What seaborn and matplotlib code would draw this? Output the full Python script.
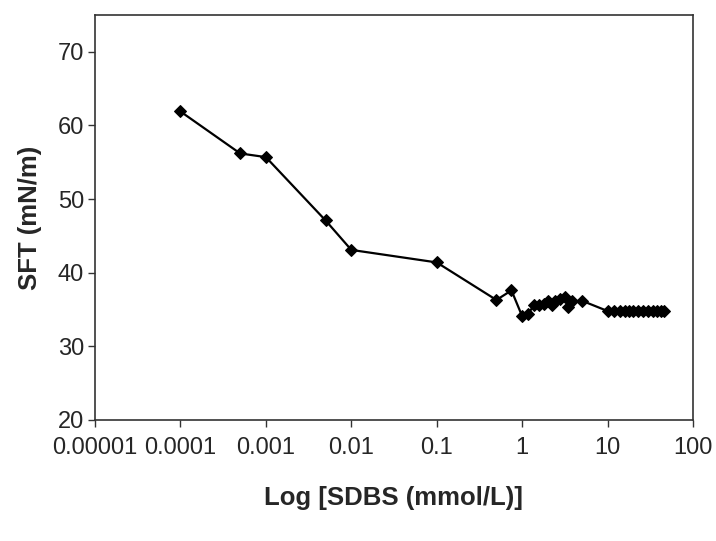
import matplotlib
matplotlib.use("Agg")
import matplotlib.pyplot as plt
import seaborn as sns
import pandas as pd
import numpy as np

# Data
sdbs_conc = [0.0001, 0.0005, 0.001, 0.005, 0.01, 0.1, 0.5, 0.75, 1.0, 1.17,
             1.38, 1.58, 1.81, 2.02, 2.24, 2.43, 2.79, 3.19, 3.46, 3.85, 5.0,
             10, 12, 14, 16, 18, 20, 23, 26, 30, 34, 38, 42, 46]
sft_values = [61.9, 56.2, 55.7, 47.1, 43.1, 41.4, 36.3, 37.6, 34.1, 34.4,
              35.6, 35.6, 35.7, 36.1, 35.6, 36.2, 36.4, 36.7, 35.3, 36.1, 36.2,
              34.8, 34.8, 34.8, 34.8, 34.8, 34.8, 34.8, 34.8, 34.8, 34.8, 34.8, 34.8, 34.8]
x_ticks = [0.00001, 0.0001, 0.001, 0.01, 0.1, 1, 10, 100]
x_tick_labels = ["0.00001", "0.0001", "0.001", "0.01", "0.1", "1", "10", "100"]
y_ticks = [20, 30, 40, 50, 60, 70]

df = pd.DataFrame({"conc": sdbs_conc, "sft": sft_values})

sns.set_style("white")
plt.rcParams["font.family"] = ["Liberation Sans", "DejaVu Sans"]

fig = plt.figure(figsize=(7.16, 5.41), dpi=100)
ax = fig.add_axes([95 / 716, 1 - 420 / 541, (693 - 95) / 716, (420 - 15) / 541])

sns.lineplot(data=df, x="conc", y="sft", ax=ax, sort=False, color="black",
             linewidth=1.6, marker="D", markersize=6.5, markeredgecolor="black",
             markerfacecolor="black")

ax.set_xscale("log")
ax.set_xlim(1e-5, 100)
ax.set_ylim(20, 75)
ax.xaxis.set_major_locator(matplotlib.ticker.FixedLocator(x_ticks))
ax.xaxis.set_minor_locator(matplotlib.ticker.NullLocator())
ax.set_xticklabels(x_tick_labels)
ax.set_yticks(y_ticks)

ax.tick_params(axis="both", which="major", direction="out", length=5, width=1,
               color="#333333", labelsize=17, pad=3, bottom=True, left=True)
ax.tick_params(axis="x", pad=7)

for s in ax.spines.values():
    s.set_color("#333333")
    s.set_linewidth(1.2)
    s.set_visible(True)

ax.set_xlabel("Log [SDBS (mmol/L)]", fontsize=18.5, fontweight="bold", labelpad=20)
ax.set_ylabel("SFT (mN/m)", fontsize=18.5, fontweight="bold", labelpad=11)

fig.savefig("out.png", dpi=100, facecolor="white")
